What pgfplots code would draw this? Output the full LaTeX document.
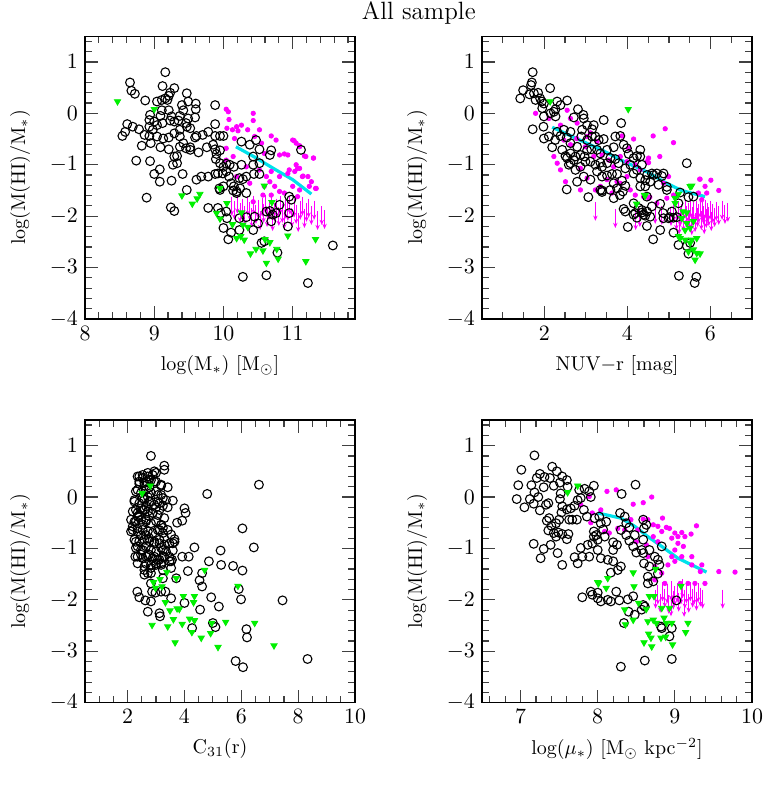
\documentclass[border=0pt]{standalone}
\usepackage{pgfplots}
\pgfplotsset{compat=1.18}
\usetikzlibrary{arrows.meta}
\definecolor{grn}{RGB}{0,240,0}
\definecolor{mag}{RGB}{255,0,255}
\definecolor{cyl}{RGB}{0,225,235}
\pgfplotsset{
  panel/.style={
    scale only axis, width=135pt, height=141.4pt,
    ymin=-4, ymax=1.5, ytick={-4,-3,-2,-1,0,1},
    minor ytick={-3.8,-3.6,...,1.41},
    tick align=inside, major tick length=6.5pt, minor tick length=3.3pt,
    axis line style={line width=0.7pt},
    tick style={line width=0.6pt, black!75},
    every tick label/.append style={font=\fontsize{11}{13}\selectfont},
    label style={font=\fontsize{11}{13}\selectfont},
    ylabel={log(M(HI)/M$_*$)},
    every axis y label/.style={at={(axis description cs:-0.24,0.5)}, rotate=90, anchor=center},
    every axis x label/.style={at={(axis description cs:0.5,-0.163)}, anchor=center},
  },
  circ/.style={black, only marks, mark=o, mark size=2.2pt, mark options={line width=0.55pt}},
  gtri/.style={grn, only marks, mark=triangle*, mark size=1.8pt, mark options={rotate=180, fill=grn, draw=grn}},
  mdot/.style={mag, only marks, mark=*, mark size=1.1pt, mark options={fill=mag, draw=mag}},
  marr/.style={mag, line width=0.5pt, quiver={u=0,v=-0.37}, -{Stealth[length=2.6pt,width=2.2pt]}},
  cline/.style={cyl, line width=1.6pt, no marks},
}
\begin{document}
\begin{tikzpicture}
\useasboundingbox (0,0) rectangle (381.5pt,394pt);
\node[font=\fontsize{12.5}{14}\selectfont, inner sep=0pt] at (209.4pt,387.6pt) {All sample};

% ---------------- top left: stellar mass
\begin{axis}[panel, at={(42.5pt,234.5pt)}, anchor=south west,
  xmin=8, xmax=11.9, xtick={8,9,10,11}, minor xtick={8.2,8.4,...,11.81},
  xlabel={log(M$_*$) [M$_\odot$]}]
\addplot[marr] coordinates {(10.12,-1.62) (10.16,-1.70) (10.20,-1.58) (10.24,-1.75) (10.28,-1.66) (10.31,-1.80) (10.35,-1.62) (10.38,-1.72) (10.41,-1.85) (10.44,-1.60) (10.47,-1.78) (10.50,-1.68) (10.53,-1.90) (10.56,-1.64) (10.58,-1.76) (10.61,-1.58) (10.63,-1.84) (10.66,-1.70) (10.69,-1.62) (10.71,-1.92) (10.74,-1.74) (10.77,-1.66) (10.80,-1.82) (10.82,-1.60) (10.85,-1.76) (10.88,-1.88) (10.90,-1.68) (10.93,-1.72) (10.96,-1.60) (10.99,-1.84) (11.02,-1.66) (11.05,-1.78) (11.08,-1.94) (11.11,-1.70) (11.14,-1.62) (11.17,-1.86) (11.20,-1.74) (11.23,-1.66) (11.27,-1.80) (11.31,-1.70) (11.36,-1.90) (11.42,-1.80) (11.46,-1.88)};
\addplot[mdot] coordinates {(10.04,0.08) (10.07,0.03) (10.08,-0.12) (10.05,-0.29) (10.13,-0.32) (10.16,-0.49) (10.19,-0.26) (10.26,-0.23) (10.21,-0.34) (10.35,-0.32) (10.43,0.00) (10.43,-0.14) (10.45,-0.45) (10.52,-0.32) (10.55,-0.58) (10.59,-0.78) (10.69,-0.44) (10.76,-0.52) (10.81,-0.81) (10.88,-0.79) (10.93,-0.81) (11.00,-0.52) (11.05,-0.58) (11.10,-0.65) (11.19,-0.84) (11.30,-0.87) (11.05,-1.00) (11.10,-1.07) (11.14,-1.23) (11.22,-1.23) (11.33,-1.46) (11.24,-1.42) (10.95,-1.10) (10.81,-1.23) (10.69,-1.13) (10.67,-1.33) (10.74,-1.42) (10.69,-1.59) (10.57,-1.59) (10.59,-1.42) (10.81,-1.52) (10.88,-1.55) (10.93,-1.17) (10.04,-0.68) (10.14,-0.84) (10.04,-0.91) (10.33,-1.04) (10.38,-1.36) (10.43,-1.72) (11.00,-1.42) (11.10,-1.49) (11.07,-1.62) (10.19,-1.23) (10.52,-1.10) (10.62,-1.23) (11.02,-0.53) (11.10,-0.63) (11.17,-0.83) (11.30,-0.87) (11.03,-1.13) (11.15,-1.22) (11.27,-1.33) (11.34,-1.46) (11.07,-1.07)};
\addplot[circ] coordinates {(9.16,0.80) (8.65,0.60) (8.67,0.44) (8.72,0.38) (9.12,0.53) (9.23,0.40) (9.29,0.49) (9.21,0.34) (9.16,0.29) (9.11,0.26) (9.19,0.26) (9.04,0.23) (8.87,0.25) (9.47,0.39) (9.49,0.23) (9.40,0.16) (9.60,0.19) (9.60,0.08) (9.42,0.06) (9.11,0.06) (9.21,0.06) (9.09,-0.05) (9.25,-0.06) (9.37,-0.05) (9.49,-0.10) (9.59,-0.08) (8.94,-0.03) (8.93,-0.13) (9.00,-0.16) (9.04,-0.23) (9.12,-0.19) (9.23,-0.14) (9.29,-0.16) (9.35,-0.14) (9.46,-0.19) (8.61,-0.21) (8.69,-0.26) (8.78,-0.31) (8.86,-0.42) (8.93,-0.26) (8.98,-0.32) (9.04,-0.45) (8.93,-0.44) (9.13,-0.49) (9.21,-0.47) (9.29,-0.39) (9.37,-0.32) (9.47,-0.26) (9.52,-0.29) (9.37,-0.45) (9.42,-0.58) (9.52,-0.66) (9.59,-0.47) (9.61,-0.44) (9.70,-0.42) (9.78,-0.36) (9.88,-0.21) (9.88,0.16) (9.88,-0.44) (9.95,-0.44) (10.00,-0.44) (8.54,-0.44) (8.58,-0.36) (8.82,-0.63) (8.95,-0.58) (9.09,-0.66) (9.21,-0.70) (9.29,-0.84) (9.33,-0.83) (9.27,-1.00) (9.33,-0.97) (9.37,-0.65) (9.46,-0.68) (9.52,-0.71) (9.64,-0.76) (9.76,-0.66) (9.85,-0.61) (9.88,-0.70) (9.90,-0.79) (9.95,-0.72) (9.89,-0.89) (9.95,-0.97) (10.00,-1.04) (10.04,-0.98) (10.09,-1.00) (10.15,-1.04) (10.26,-1.00) (10.26,-0.55) (10.38,-0.61) (10.47,-0.52) (10.52,-0.70) (10.43,-0.84) (10.43,-1.00) (10.52,-0.97) (10.44,-1.18) (10.52,-1.18) (9.61,-1.29) (9.68,-1.23) (9.78,-1.23) (9.88,-1.18) (9.92,-1.17) (9.99,-1.17) (10.04,-1.13) (10.11,-1.36) (10.15,-1.42) (10.19,-1.52) (10.24,-1.46) (10.28,-1.28) (10.33,-1.23) (10.23,-1.26) (10.08,-1.23) (8.74,-0.92) (8.94,-0.93) (9.08,-1.09) (9.00,-1.18) (9.08,-1.33) (9.25,-1.31) (9.41,-1.18) (9.47,-1.49) (8.89,-1.64) (9.24,-1.83) (9.29,-1.90) (9.78,-1.84) (9.92,-1.84) (9.96,-1.94) (10.05,-2.04) (10.00,-2.23) (10.07,-2.45) (10.11,-2.32) (10.23,-2.27) (10.23,-2.04) (10.33,-2.02) (10.45,-2.01) (10.50,-2.14) (10.43,-2.27) (10.55,-2.52) (10.59,-2.49) (10.67,-1.90) (10.71,-1.97) (10.81,-1.78) (10.76,-1.94) (10.95,-1.62) (10.98,-1.68) (10.95,-1.94) (10.93,-2.20) (10.78,-2.71) (10.69,-2.10) (10.62,-1.91) (10.28,-3.18) (10.62,-3.15) (11.22,-3.30) (10.67,-0.81) (10.69,-0.72) (11.12,-0.71) (9.94,-1.46) (10.00,-1.42) (10.14,-1.50) (10.19,-1.55) (10.33,-1.55) (10.04,-1.91) (9.95,-1.49) (11.58,-2.57)};
\addplot[gtri] coordinates {(8.47,0.23) (9.00,0.08) (9.40,-1.60) (9.55,-1.76) (9.62,-1.66) (9.66,-1.57) (10.05,-1.75) (9.95,-1.46) (9.90,-1.94) (9.95,-2.05) (10.13,-2.16) (10.19,-2.43) (10.25,-2.39) (10.30,-2.46) (10.26,-1.93) (10.28,-2.17) (10.35,-2.21) (10.39,-2.73) (10.47,-2.64) (10.57,-2.67) (10.60,-2.45) (10.67,-2.51) (10.62,-2.91) (10.77,-2.64) (10.79,-2.83) (10.70,-1.73) (10.93,-2.38) (11.19,-2.88) (11.33,-2.45) (10.59,-1.41)};
\addplot[cline] coordinates {(10.18,-0.65) (10.45,-0.85) (10.72,-1.07) (11.00,-1.29) (11.27,-1.57)};
\end{axis}

% ---------------- top right: NUV-r
\begin{axis}[panel, at={(241pt,234.5pt)}, anchor=south west,
  xmin=0.5, xmax=7, xtick={2,4,6}, minor xtick={0.5,1,...,7.01},
  xlabel={NUV$-$r [mag]}]
\addplot[marr] coordinates {(3.23,-1.72) (3.71,-1.86) (4.30,-1.84) (4.67,-1.78) (4.83,-1.80) (4.20,-1.90) (5.05,-1.82) (5.12,-1.74) (5.18,-1.90) (5.22,-1.70) (5.27,-1.84) (5.31,-1.76) (5.35,-1.92) (5.39,-1.68) (5.43,-1.80) (5.46,-1.74) (5.50,-1.88) (5.53,-1.66) (5.57,-1.82) (5.60,-1.72) (5.63,-1.94) (5.66,-1.70) (5.69,-1.84) (5.72,-1.76) (5.75,-1.66) (5.78,-1.90) (5.81,-1.72) (5.84,-1.80) (5.87,-1.68) (5.90,-1.86) (5.93,-1.74) (5.96,-1.82) (5.99,-1.70) (6.02,-1.92) (6.06,-1.76) (6.10,-1.84) (6.14,-1.72) (6.20,-1.80) (6.28,-1.70) (6.35,-1.78) (6.42,-1.74) (5.25,-1.98) (5.55,-2.00) (5.85,-1.98)};
\addplot[mdot] coordinates {(1.79,0.00) (2.11,-0.10) (2.55,0.06) (2.63,-0.10) (2.79,-0.19) (2.39,-0.23) (2.47,-0.52) (2.63,-0.61) (2.78,-0.49) (2.99,-0.65) (3.03,-0.45) (3.11,-0.38) (3.27,-0.55) (3.19,-0.84) (3.39,-0.81) (3.55,-0.91) (3.67,-1.04) (3.87,-0.44) (4.15,-0.50) (4.62,-0.44) (4.91,-0.30) (5.11,-0.57) (4.78,-0.84) (4.51,-0.87) (4.31,-1.10) (3.99,-1.23) (3.75,-1.33) (3.51,-1.29) (3.35,-1.42) (3.23,-1.49) (3.03,-1.26) (3.63,-1.55) (3.83,-1.36) (4.07,-1.49) (4.19,-1.59) (4.39,-1.62) (4.51,-1.65) (4.71,-1.75) (4.95,-1.65) (5.11,-1.59) (4.99,-1.23) (4.87,-1.36) (3.99,-0.94) (4.19,-1.00) (4.47,-0.94) (2.87,-1.07) (5.75,-1.28) (5.87,-1.42) (5.91,-1.55) (5.79,-1.68) (5.71,-1.55) (2.87,-1.49) (2.51,-1.33) (2.23,-0.84) (2.31,-0.97) (2.39,-1.10) (3.83,-0.84) (4.03,-0.68) (4.51,-0.96) (5.74,-1.28) (6.01,-1.30) (4.54,-1.63) (6.20,-1.50)};
\addplot[circ] coordinates {(1.72,0.80) (1.70,0.60) (1.68,0.55) (1.49,0.45) (1.42,0.29) (1.64,0.37) (1.75,0.39) (1.85,0.40) (1.90,0.29) (1.94,0.23) (1.99,0.19) (1.79,0.26) (1.95,0.10) (2.14,0.49) (2.31,0.23) (2.55,0.25) (2.39,0.16) (2.27,0.08) (2.15,0.00) (2.27,-0.06) (2.23,0.03) (1.99,-0.06) (1.98,-0.26) (1.99,-0.49) (1.72,-0.31) (2.11,-0.45) (2.19,-0.66) (2.26,-0.52) (2.31,-0.36) (2.39,-0.44) (2.47,-0.32) (2.54,-0.47) (2.63,-0.36) (2.63,-0.58) (2.81,0.08) (2.71,-0.08) (2.94,-0.03) (2.95,-0.10) (3.03,-0.23) (3.15,-0.31) (3.19,-0.23) (3.43,-0.13) (2.91,-0.32) (2.89,-0.45) (3.03,-0.52) (3.15,-0.45) (3.23,-0.45) (3.31,-0.52) (3.43,-0.50) (2.79,-0.65) (2.63,-0.78) (2.51,-0.83) (2.43,-0.71) (2.55,-0.87) (2.71,-0.91) (2.75,-0.84) (2.87,-0.81) (2.97,-0.84) (3.03,-0.72) (3.13,-0.70) (3.27,-0.71) (3.35,-0.78) (3.51,-0.71) (3.67,-0.66) (3.71,-0.45) (3.83,-0.44) (3.85,-0.19) (3.91,-0.61) (3.99,-0.68) (4.03,-0.79) (4.15,-0.87) (4.23,-0.83) (4.31,-0.71) (4.31,-0.84) (4.07,-1.00) (3.95,-1.07) (3.79,-0.97) (3.71,-0.89) (3.59,-0.87) (3.51,-0.97) (3.35,-0.96) (3.23,-1.00) (3.11,-0.94) (2.99,-0.94) (2.87,-1.04) (2.75,-1.10) (2.63,-0.97) (2.59,-1.00) (2.79,-1.33) (2.95,-1.23) (3.11,-1.29) (3.27,-1.13) (3.39,-1.04) (3.39,-1.23) (3.51,-1.21) (3.63,-1.18) (3.75,-1.18) (3.87,-1.31) (3.95,-1.41) (3.67,-1.36) (3.75,-1.46) (3.59,-1.49) (3.35,-1.49) (3.39,-1.53) (3.67,-1.65) (3.82,-1.59) (3.89,-1.52) (4.15,-1.17) (4.23,-1.10) (4.35,-1.00) (4.47,-1.20) (4.55,-1.33) (4.43,-1.42) (4.31,-1.42) (4.59,-1.17) (4.71,-1.17) (4.83,-1.22) (4.95,-1.49) (4.47,-1.62) (4.15,-1.75) (4.27,-1.84) (4.35,-1.88) (4.47,-1.91) (4.59,-1.81) (4.55,-2.01) (4.79,-1.76) (4.86,-1.94) (4.99,-2.04) (5.11,-2.03) (5.07,-1.91) (5.27,-1.54) (5.43,-0.97) (3.91,-1.86) (3.95,-1.91) (4.15,-1.97) (4.23,-2.03) (4.35,-1.93) (4.43,-1.99) (4.01,-2.21) (4.47,-2.19) (4.79,-2.27) (4.62,-2.45) (5.11,-2.32) (5.23,-2.56) (5.43,-2.58) (5.51,-2.52) (5.47,-2.73) (5.24,-3.16) (5.66,-3.18) (5.62,-3.30) (2.54,-1.48) (3.06,-1.63) (3.39,-1.50) (5.02,-2.02) (5.19,-2.02) (5.23,-1.75) (5.47,-1.63) (5.59,-1.62) (4.39,-1.97) (4.19,-1.94) (4.87,-2.04) (4.31,-1.26) (4.43,-1.30) (4.63,-1.20) (4.87,-1.17) (4.75,-1.39) (4.95,-1.43)};
\addplot[gtri] coordinates {(2.14,0.23) (4.02,0.08) (4.43,-1.60) (4.22,-1.76) (5.15,-1.65) (5.23,-1.57) (5.15,-1.75) (5.34,-1.91) (5.51,-1.42) (5.55,-1.41) (5.31,-2.04) (5.43,-2.14) (5.39,-2.27) (5.51,-2.23) (5.59,-2.10) (5.23,-2.39) (5.27,-2.43) (5.39,-2.46) (5.55,-2.46) (5.67,-2.43) (5.47,-2.69) (5.59,-2.65) (5.67,-2.72) (5.75,-2.73) (5.63,-2.85) (5.51,-2.52) (5.43,-1.93) (4.41,-1.59)};
\addplot[cline] coordinates {(2.19,-0.27) (2.8,-0.50) (3.4,-0.72) (3.9,-0.93) (4.5,-1.15) (4.9,-1.34) (5.3,-1.50) (5.87,-1.62)};
\end{axis}

% ---------------- bottom left: concentration
\begin{axis}[panel, at={(42.5pt,42.65pt)}, anchor=south west,
  xmin=0.5, xmax=10, xtick={2,4,6,8,10}, minor xtick={0.5,1,...,10.01},
  xlabel={C$_{31}$(r)}]
\addplot[circ] coordinates {(2.82,0.80) (3.29,0.61) (3.29,0.53) (2.94,0.50) (2.41,0.40) (2.53,0.37) (2.71,0.40) (2.82,0.33) (2.65,0.30) (3.00,0.30) (3.18,0.22) (3.41,0.19) (2.41,0.26) (2.59,0.22) (2.76,0.19) (2.35,0.14) (3.00,0.11) (3.18,0.04) (3.35,-0.06) (3.59,-0.07) (2.24,-0.06) (2.53,-0.02) (2.71,0.00) (2.82,-0.09) (3.06,-0.09) (3.24,-0.17) (3.00,-0.20) (3.41,-0.20) (2.65,-0.18) (2.47,-0.22) (2.29,-0.25) (2.35,-0.38) (2.24,-0.48) (2.18,-0.57) (2.12,-0.67) (2.35,-0.61) (2.53,-0.54) (2.65,-0.44) (2.76,-0.37) (2.41,-0.35) (2.59,-0.25) (2.88,-0.31) (3.12,-0.25) (3.29,-0.41) (3.18,-0.54) (3.12,-0.64) (3.24,-0.70) (3.41,-0.64) (3.53,-0.73) (3.65,-0.82) (3.65,-0.87) (3.47,-0.90) (3.29,-0.93) (3.12,-0.90) (2.94,-0.87) (2.76,-0.80) (2.65,-0.74) (2.47,-0.74) (2.29,-0.87) (2.35,-0.96) (2.53,-1.03) (2.47,-1.12) (2.27,-1.16) (2.65,-1.16) (2.76,-1.12) (2.94,-1.16) (3.12,-1.22) (3.18,-1.32) (3.00,-1.29) (2.82,-1.32) (2.65,-1.30) (2.35,-1.29) (2.59,-1.42) (2.59,-1.51) (2.71,-1.48) (2.82,-1.48) (3.24,-1.42) (3.53,-1.25) (3.56,-1.22) (3.59,-1.04) (3.59,-0.90) (3.24,-1.03) (3.29,-1.16) (4.00,-0.22) (4.04,-0.31) (3.92,-0.46) (3.74,-0.50) (4.35,-0.98) (3.92,-1.16) (4.15,-1.16) (4.12,-1.44) (4.53,-1.62) (4.62,-1.48) (4.62,-1.74) (4.86,-1.25) (5.27,-1.04) (5.29,-1.32) (5.71,-1.34) (6.04,-1.43) (5.91,-1.79) (5.99,-1.99) (6.04,-0.61) (6.44,-0.98) (6.62,0.24) (4.80,0.06) (2.34,-1.84) (2.41,-1.95) (2.62,-2.01) (2.82,-2.03) (2.98,-1.86) (3.18,-1.84) (3.33,-1.84) (3.53,-1.97) (2.71,-2.23) (3.12,-2.26) (3.14,-2.32) (4.00,-2.06) (4.55,-2.19) (4.94,-1.95) (5.21,-2.13) (5.00,-2.45) (5.09,-2.53) (4.27,-2.55) (6.18,-2.57) (6.20,-2.73) (5.80,-3.19) (6.06,-3.31) (7.45,-2.01) (8.33,-3.15) (2.82,-1.68) (2.86,-1.84) (3.24,-1.58) (3.71,-1.58) (2.35,0.40) (2.53,0.43) (2.71,0.47) (2.88,0.43) (3.00,0.47) (2.41,0.30) (2.59,0.27) (2.76,0.34) (2.94,0.30) (3.18,0.24) (2.29,0.11) (2.47,0.08) (2.65,0.14) (2.82,0.08) (3.06,0.04) (3.24,-0.02) (2.24,-0.09) (2.41,-0.12) (2.59,-0.05) (2.76,-0.09) (2.94,-0.15) (3.12,-0.12) (2.18,-0.28) (2.35,-0.31) (2.53,-0.25) (2.71,-0.28) (2.88,-0.31) (3.06,-0.35) (2.12,-0.44) (2.29,-0.47) (2.47,-0.44) (2.65,-0.47) (2.82,-0.51) (3.00,-0.47) (3.18,-0.54) (2.18,-0.64) (2.35,-0.67) (2.53,-0.64) (2.71,-0.67) (2.88,-0.70) (3.06,-0.64) (3.24,-0.60) (2.24,-0.83) (2.41,-0.86) (2.59,-0.83) (2.76,-0.86) (2.94,-0.90) (3.12,-0.83) (3.29,-0.80) (2.29,-0.99) (2.47,-1.03) (2.65,-0.96) (2.82,-1.03) (3.00,-1.06) (3.18,-0.99) (3.35,-1.06) (2.35,-1.16) (2.53,-1.19) (2.71,-1.14) (2.88,-1.19) (3.06,-1.22) (3.24,-1.17) (3.47,-1.16) (2.59,-1.35) (2.82,-1.38) (3.00,-1.32) (3.18,-1.29) (3.47,-1.25) (3.53,-1.38)};
\addplot[gtri] coordinates {(2.80,0.22) (2.51,0.07) (3.38,-1.46) (3.71,-1.58) (3.14,-1.60) (2.91,-1.66) (3.21,-1.74) (2.98,-1.77) (4.71,-1.42) (5.88,-1.73) (3.33,-2.05) (3.49,-2.21) (3.74,-2.17) (3.82,-2.18) (3.61,-2.38) (3.96,-1.93) (4.35,-1.93) (4.32,-2.05) (4.18,-2.37) (4.35,-2.40) (3.92,-2.47) (3.41,-2.52) (2.86,-2.49) (4.26,-2.63) (4.59,-2.74) (4.92,-2.65) (4.96,-2.45) (5.45,-2.43) (5.18,-2.92) (6.47,-2.45) (7.15,-2.89) (3.67,-2.83)};
\end{axis}

% ---------------- bottom right: surface density
\begin{axis}[panel, at={(241pt,42.65pt)}, anchor=south west,
  xmin=6.5, xmax=10, xtick={7,8,9,10}, minor xtick={6.6,6.8,...,9.81},
  xlabel={log($\mu_*$) [M$_\odot$ kpc$^{-2}$]}]
\addplot[marr] coordinates {(8.75,-1.80) (8.78,-1.72) (8.81,-1.88) (8.84,-1.66) (8.87,-1.78) (8.90,-1.70) (8.92,-1.90) (8.95,-1.64) (8.98,-1.82) (9.00,-1.74) (9.03,-1.68) (9.05,-1.86) (9.08,-1.72) (9.10,-1.60) (9.13,-1.80) (9.15,-1.70) (9.18,-1.88) (9.20,-1.66) (9.23,-1.78) (9.25,-1.72) (9.28,-1.84) (9.30,-1.68) (9.33,-1.76) (9.36,-1.80) (9.62,-1.80) (8.95,-1.95) (9.12,-1.96)};
\addplot[mdot] coordinates {(8.12,0.11) (8.24,0.14) (8.46,-0.14) (8.59,-0.11) (8.70,0.00) (7.91,-0.50) (8.09,-0.67) (8.26,-0.61) (8.35,-0.64) (8.43,-0.44) (8.50,-0.87) (8.59,-0.43) (8.65,-0.44) (8.72,-0.54) (8.78,-0.57) (8.84,-0.41) (8.83,-0.67) (8.89,-0.59) (8.93,-0.61) (8.96,-0.80) (9.00,-0.70) (9.04,-0.77) (9.09,-0.69) (9.13,-0.77) (9.21,-0.72) (9.28,-0.56) (9.04,-0.90) (9.11,-0.96) (9.00,-1.03) (8.96,-1.16) (8.91,-1.32) (9.00,-1.25) (9.09,-1.16) (9.22,-1.16) (9.22,-1.32) (9.35,-1.32) (9.26,-1.68) (9.39,-1.68) (9.57,-1.45) (9.78,-1.46) (8.72,-0.77) (8.78,-0.87) (8.65,-1.16) (8.63,-0.93) (8.52,-0.64) (8.74,-1.35) (8.83,-1.48) (8.74,-1.61) (8.87,-1.68) (9.07,-1.68) (9.17,-1.68) (9.33,-1.45) (7.89,0.01) (8.04,-0.25) (7.78,-0.15) (7.93,-0.31) (8.15,-0.70)};
\addplot[circ] coordinates {(7.18,0.81) (7.01,0.53) (7.41,0.59) (7.47,0.50) (7.25,0.45) (7.21,0.37) (7.31,0.39) (7.38,0.37) (7.54,0.40) (7.60,0.33) (7.51,0.28) (7.43,0.22) (7.61,0.20) (6.97,0.23) (7.14,0.23) (7.30,0.19) (7.18,0.09) (6.95,-0.04) (7.05,-0.20) (7.12,-0.04) (7.23,0.00) (7.17,-0.13) (7.25,-0.26) (7.33,-0.15) (7.36,-0.12) (7.52,0.07) (7.51,-0.04) (7.54,-0.18) (7.53,-0.30) (7.60,-0.24) (7.65,-0.22) (7.70,-0.17) (7.74,-0.06) (7.78,-0.02) (7.76,0.14) (7.83,0.16) (7.89,0.11) (7.95,0.22) (7.91,0.00) (7.82,-0.25) (7.86,-0.38) (7.73,-0.44) (7.67,-0.44) (7.63,-0.44) (7.50,-0.44) (7.46,-0.51) (7.37,-0.41) (7.34,-0.46) (7.40,-0.56) (7.36,-0.65) (7.43,-0.70) (7.49,-0.69) (7.54,-0.72) (7.62,-0.72) (7.60,-0.82) (7.46,-0.77) (7.39,-0.93) (7.30,-1.01) (7.26,-1.19) (7.17,-0.91) (7.48,-1.09) (7.54,-1.32) (7.70,-1.17) (7.74,-1.29) (7.78,-0.99) (7.80,-1.16) (7.89,-1.16) (7.95,-0.67) (7.95,-0.77) (7.96,-0.41) (8.02,-0.38) (8.04,-0.51) (8.07,-0.63) (8.11,-0.48) (8.09,-0.77) (7.93,-0.90) (8.00,-1.03) (8.04,-1.19) (8.13,-1.22) (8.20,-1.25) (8.17,-1.47) (8.26,-1.42) (8.30,-1.35) (8.20,-1.03) (8.20,-0.88) (8.25,-0.93) (8.29,-0.31) (8.31,0.06) (8.35,-0.38) (8.37,-0.51) (8.41,-0.59) (8.30,-0.64) (8.37,-0.74) (8.41,-0.85) (8.48,-0.74) (8.46,-0.96) (8.50,-1.08) (8.59,-0.44) (8.60,-0.61) (8.63,-0.54) (8.59,-0.83) (8.57,-1.03) (8.59,-1.09) (8.60,-1.29) (8.49,0.24) (8.67,-1.03) (8.74,-1.16) (8.83,-0.96) (8.78,-1.22) (8.80,-1.32) (8.67,-1.35) (8.65,-1.55) (8.65,-1.68) (8.72,-1.64) (8.78,-1.49) (7.80,-1.95) (7.91,-1.84) (7.93,-1.90) (8.00,-1.86) (8.00,-1.97) (8.04,-2.03) (8.13,-2.00) (8.24,-1.84) (8.17,-2.03) (8.28,-2.01) (8.39,-1.99) (8.46,-1.93) (8.40,-2.23) (8.48,-2.29) (8.57,-2.19) (8.61,-2.13) (8.59,-2.10) (8.34,-2.45) (8.83,-2.55) (8.82,-2.52) (8.96,-2.55) (8.93,-2.71) (9.02,-2.01) (8.61,-3.18) (8.30,-3.30) (8.96,-3.15) (7.98,-0.74) (8.00,-0.83) (7.87,-0.93)};
\addplot[gtri] coordinates {(7.74,0.22) (7.61,0.09) (8.00,-1.66) (8.13,-1.58) (8.11,-1.77) (8.01,-1.68) (8.46,-1.47) (8.47,-1.74) (8.35,-2.19) (8.36,-2.48) (8.46,-2.39) (8.53,-2.06) (8.63,-2.18) (8.65,-2.42) (8.72,-2.39) (8.76,-2.45) (8.73,-1.93) (8.67,-1.93) (8.86,-2.35) (8.83,-2.16) (8.93,-2.16) (8.89,-2.45) (8.96,-2.45) (9.08,-1.73) (9.17,-2.45) (9.14,-2.63) (8.97,-2.87) (8.66,-2.66) (8.69,-2.74) (8.60,-2.83) (8.70,-2.91) (8.82,-2.74) (8.88,-2.72) (8.75,-1.40)};
\addplot[cline] coordinates {(8.00,-0.31) (8.30,-0.41) (8.48,-0.57) (8.65,-0.77) (8.83,-0.96) (9.04,-1.19) (9.26,-1.35) (9.41,-1.46)};
\end{axis}
\end{tikzpicture}
\end{document}
